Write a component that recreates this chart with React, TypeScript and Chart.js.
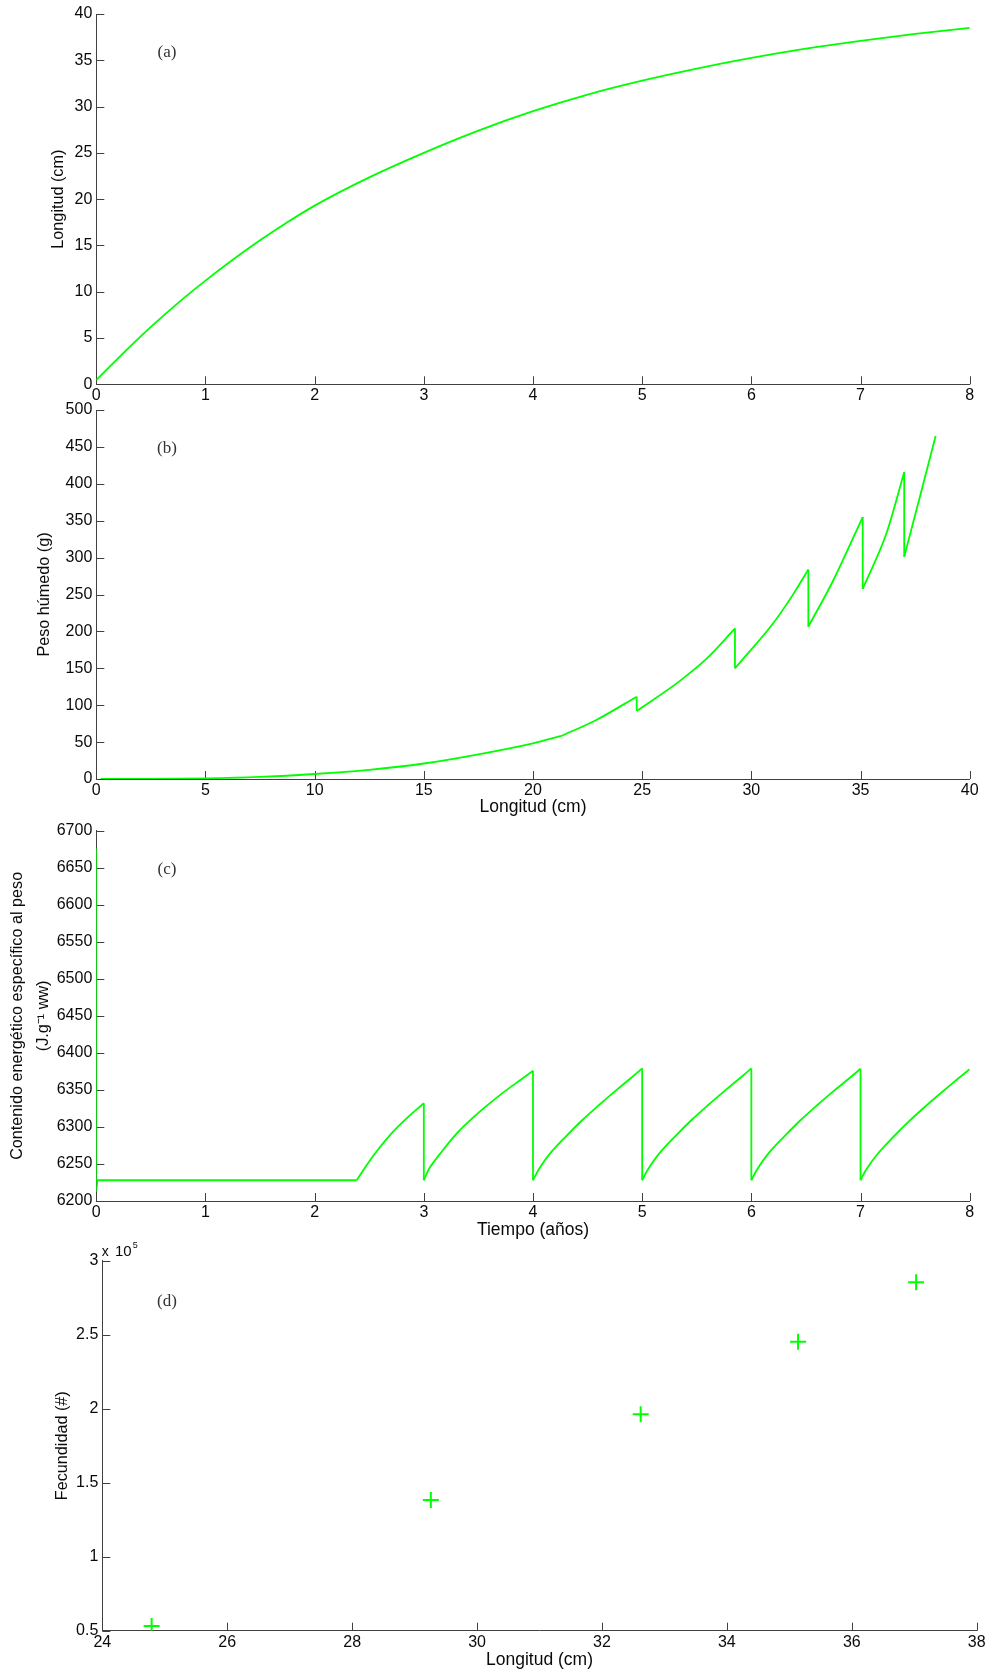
import React, { useEffect, useRef } from "react";
import { Chart, registerables } from "chart.js";

Chart.register(...registerables);

const PAGE_W = 989;
const PAGE_H = 1673;
const X_BAND = 40;
const GREEN = "#00ff00";
const AXIS = "#404040";
const TEXT = "#0a0a0a";
const SANS = "'Liberation Sans', Arial, sans-serif";
const SERIF = "'Liberation Serif', 'Times New Roman', serif";
const TICK_SIZE = 16;

type Pt = [number, number];

// ---------- (a) Longitud vs tiempo ----------
const tiempoA = [0, 0.25, 0.5, 0.75, 1, 1.25, 1.5, 1.75, 2, 2.5, 3, 3.5, 4, 4.5, 5, 5.5, 6, 6.5, 7, 7.5, 8];
const longitudA = [0.46, 3.4, 6.2, 8.8, 11.2, 13.45, 15.55, 17.5, 19.3, 22.35, 25.0, 27.4, 29.5, 31.3, 32.8, 34.1, 35.25, 36.25, 37.1, 37.85, 38.5];

// ---------- (b) Peso húmedo vs longitud ----------
const pesoTramo1: Pt[] = [[0.2, 0], [2.5, 0.1], [5, 0.9], [7.5, 2.9], [10, 6.8], [12.5, 12.4], [15, 21], [17.5, 33.5], [20, 48.4], [21.3, 58.3]];
const pesoTramo2: Pt[] = [[21.3, 58.3], [22.9, 80], [24.75, 111.5]];
const pesoTramo3: Pt[] = [[24.75, 92], [26.73, 133], [27.95, 163], [29.25, 204]];
const pesoTramo4: Pt[] = [[29.25, 150], [31.0, 211], [31.92, 250.5], [32.61, 284]];
const pesoTramo5: Pt[] = [[32.61, 206.4], [33.75, 269], [35.1, 355]];
const pesoTramo6: Pt[] = [[35.1, 257.5], [36.2, 334], [37.0, 415.6]];
const pesoTramo7: Pt[] = [[37.0, 301], [37.72, 382.5], [38.44, 464.8]];
const pesoTramos = [pesoTramo1, pesoTramo2, pesoTramo3, pesoTramo4, pesoTramo5, pesoTramo6, pesoTramo7];

// ---------- (c) Contenido energético vs tiempo ----------
const energiaInicio: Pt[] = [[0, 6676], [0, 6213], [0.01, 6228], [2.385, 6228]];
const energiaCiclo1: Pt[] = [[2.385, 6228], [2.537, 6261], [2.69, 6289], [2.842, 6311.5], [3, 6332]];
const energiaCiclo2: Pt[] = [[3, 6228], [3.05, 6244], [3.15, 6264], [3.3, 6291], [3.45, 6312.5], [3.6, 6331.5], [3.75, 6349], [3.9, 6365], [4, 6376]];
const energiaCiclo3: Pt[] = [[4, 6228], [4.05, 6242], [4.15, 6263], [4.3, 6287], [4.45, 6309], [4.6, 6329], [4.75, 6348], [4.9, 6366.5], [5, 6379]];
const energiaCiclo4: Pt[] = [[5, 6228], [5.05, 6242], [5.15, 6263], [5.3, 6287], [5.45, 6309], [5.6, 6329], [5.75, 6348], [5.9, 6366.5], [6, 6379]];
const energiaCiclo5: Pt[] = [[6, 6228], [6.05, 6242], [6.15, 6263], [6.3, 6287], [6.45, 6309], [6.6, 6329], [6.75, 6348], [6.9, 6366], [7, 6378.5]];
const energiaCiclo6: Pt[] = [[7, 6228], [7.05, 6242], [7.15, 6262.5], [7.3, 6286.5], [7.45, 6308.5], [7.6, 6328.5], [7.75, 6347.5], [7.9, 6366], [8, 6378]];
const energiaCiclos = [energiaCiclo1, energiaCiclo2, energiaCiclo3, energiaCiclo4, energiaCiclo5, energiaCiclo6];

// ---------- (d) Fecundidad vs longitud ----------
const longitudD = [24.79, 29.26, 32.62, 35.14, 37.03];
const fecundidadD = [53200, 138300, 196200, 245300, 285400];

const toXY = (pts: Pt[]) => pts.map(([x, y]) => ({ x, y }));

function lineDs(pts: Pt[], mode: "monotone" | "spline" | "straight") {
  return {
    data: toXY(pts),
    borderColor: GREEN,
    backgroundColor: GREEN,
    borderWidth: 1.8,
    pointRadius: 0,
    fill: false,
    tension: mode === "straight" ? 0 : 0.35,
    cubicInterpolationMode: mode === "monotone" ? "monotone" : "default",
  };
}

// vertical drops joining consecutive smooth pieces
function dropSets(pieces: Pt[][]) {
  const out: any[] = [];
  for (let i = 0; i < pieces.length - 1; i++) {
    const a = pieces[i][pieces[i].length - 1];
    const b = pieces[i + 1][0];
    out.push(lineDs([a, b], "straight"));
  }
  return out;
}

const innerTicks = {
  id: "innerTicks",
  beforeDatasetsDraw(chart: any) {
    const { ctx, chartArea, scales } = chart;
    const xs = scales.x;
    const ys = scales.y;
    ctx.save();
    ctx.strokeStyle = AXIS;
    ctx.lineWidth = 1;
    xs.ticks.forEach((t: any) => {
      const px = Math.round(xs.getPixelForValue(t.value)) + 0.5;
      ctx.beginPath();
      ctx.moveTo(px, chartArea.bottom);
      ctx.lineTo(px, chartArea.bottom - 8);
      ctx.stroke();
    });
    ys.ticks.forEach((t: any) => {
      const py = Math.round(ys.getPixelForValue(t.value)) + 0.5;
      ctx.beginPath();
      ctx.moveTo(chartArea.left, py);
      ctx.lineTo(chartArea.left + 8, py);
      ctx.stroke();
    });
    ctx.restore();
  },
};

type Txt = { text: string; x: number; y: number; font: string; align: CanvasTextAlign; baseline: CanvasTextBaseline; color: string };

function annotations(texts: Txt[]) {
  return {
    id: "annotations",
    afterDraw(chart: any) {
      const ctx = chart.ctx;
      texts.forEach((t) => {
        ctx.save();
        ctx.font = t.font;
        ctx.fillStyle = t.color;
        ctx.textAlign = t.align;
        ctx.textBaseline = t.baseline;
        ctx.fillText(t.text, t.x, t.y);
        ctx.restore();
      });
    },
  };
}

type Area = { left: number; right: number; top: number; bottom: number };

function panelConfig(spec: {
  type: string;
  area: Area;
  datasets: any[];
  x: { min: number; max: number; step: number; title?: string; titleCenter?: number };
  y: { min: number; max: number; step: number; title: string | string[]; titleX: number; lineHeight: number; fmt?: (v: number) => string };
  texts: Txt[];
}) {
  const { area, x, y } = spec;
  const yTitleSize = 16.2;
  const xTitleSize = 17.5;
  const yLH = yTitleSize * y.lineHeight;
  const xLH = xTitleSize * 1.2;
  const xPadBottom = x.titleCenter !== undefined ? area.bottom + X_BAND - xLH / 2 - x.titleCenter : 0;
  return {
    type: spec.type,
    data: { datasets: spec.datasets },
    options: {
      responsive: false,
      maintainAspectRatio: false,
      animation: false,
      devicePixelRatio: 1,
      events: [],
      layout: {
        padding: {
          left: 0,
          top: area.top,
          right: PAGE_W - area.right,
          bottom: PAGE_H - area.bottom - X_BAND,
        },
      },
      plugins: { legend: { display: false }, tooltip: { enabled: false }, title: { display: false } },
      scales: {
        x: {
          type: "linear",
          min: x.min,
          max: x.max,
          grid: { display: false, drawTicks: false },
          border: { display: true, color: AXIS, width: 1 },
          ticks: {
            stepSize: x.step,
            autoSkip: false,
            maxRotation: 0,
            padding: 2,
            color: TEXT,
            font: { family: SANS, size: TICK_SIZE },
            callback: (v: any) => String(v),
          },
          title: x.title
            ? {
                display: true,
                text: x.title,
                color: TEXT,
                font: { family: SANS, size: xTitleSize, lineHeight: 1.2 },
                padding: { top: 0, bottom: xPadBottom },
              }
            : { display: false },
          afterFit: (s: any) => {
            s.height = X_BAND;
          },
        },
        y: {
          type: "linear",
          min: y.min,
          max: y.max,
          grid: { display: false, drawTicks: false },
          border: { display: true, color: AXIS, width: 1 },
          ticks: {
            stepSize: y.step,
            autoSkip: false,
            padding: 4,
            color: TEXT,
            font: { family: SANS, size: TICK_SIZE },
            callback: (v: any) => (y.fmt ? y.fmt(Number(v)) : String(v)),
          },
          title: {
            display: true,
            text: y.title,
            color: TEXT,
            font: { family: SANS, size: yTitleSize, lineHeight: y.lineHeight },
            padding: { top: y.titleX - yLH / 2, bottom: 0 },
          },
          afterFit: (s: any) => {
            s.width = area.left;
          },
        },
      },
    },
    plugins: [innerTicks, annotations(spec.texts)],
  };
}

const panelLabel = (text: string, y: number): Txt => ({
  text,
  x: 167,
  y,
  font: `17px ${SERIF}`,
  align: "center",
  baseline: "middle",
  color: "#333",
});

function configs() {
  const a = panelConfig({
    type: "line",
    area: { left: 96.3, right: 969.7, top: 14, bottom: 384.3 },
    datasets: [lineDs(tiempoA.map((t, i) => [t, longitudA[i]] as Pt), "monotone")],
    x: { min: 0, max: 8, step: 1 },
    y: { min: 0, max: 40, step: 5, title: "Longitud (cm)", titleX: 58.3, lineHeight: 1.2 },
    texts: [panelLabel("(a)", 53)],
  });

  const b = panelConfig({
    type: "line",
    area: { left: 96.3, right: 969.7, top: 410, bottom: 779 },
    datasets: [...pesoTramos.map((p) => lineDs(p, "monotone")), ...dropSets(pesoTramos)],
    x: { min: 0, max: 40, step: 5, title: "Longitud (cm)", titleCenter: 806.7 },
    y: { min: 0, max: 500, step: 50, title: "Peso húmedo (g)", titleX: 44.5, lineHeight: 1.2 },
    texts: [panelLabel("(b)", 448.8)],
  });

  const c = panelConfig({
    type: "line",
    area: { left: 96.3, right: 969.7, top: 830.7, bottom: 1201 },
    datasets: [
      lineDs(energiaInicio, "straight"),
      ...energiaCiclos.map((p) => lineDs(p, "spline")),
      ...dropSets(energiaCiclos),
    ],
    x: { min: 0, max: 8, step: 1, title: "Tiempo (años)", titleCenter: 1229.7 },
    y: {
      min: 6200,
      max: 6700,
      step: 50,
      title: ["Contenido energético específico al peso", "(J.g⁻¹ ww)"],
      titleX: 17.8,
      lineHeight: 1.6,
    },
    texts: [panelLabel("(c)", 869.2)],
  });

  const d = panelConfig({
    type: "scatter",
    area: { left: 102.3, right: 976.7, top: 1260.7, bottom: 1630.7 },
    datasets: [
      {
        data: longitudD.map((x, i) => ({ x, y: fecundidadD[i] })),
        showLine: false,
        pointStyle: "cross",
        pointRadius: 8,
        pointBorderWidth: 2,
        borderColor: GREEN,
        backgroundColor: GREEN,
        pointBorderColor: GREEN,
      },
    ],
    x: { min: 24, max: 38, step: 2, title: "Longitud (cm)", titleCenter: 1660 },
    y: {
      min: 50000,
      max: 300000,
      step: 50000,
      title: "Fecundidad (#)",
      titleX: 62.5,
      lineHeight: 1.2,
      fmt: (v) => String(Math.round((v / 1e5) * 10) / 10),
    },
    texts: [
      panelLabel("(d)", 1301.7),
      { text: "x", x: 101.7, y: 1256, font: `14px ${SANS}`, align: "left", baseline: "alphabetic", color: TEXT },
      { text: "10", x: 115, y: 1256, font: `15px ${SANS}`, align: "left", baseline: "alphabetic", color: TEXT },
      { text: "5", x: 132.7, y: 1247.5, font: `9px ${SANS}`, align: "left", baseline: "alphabetic", color: TEXT },
    ],
  });

  return [a, b, c, d];
}

export default function App() {
  const canvasRefs = useRef<(HTMLCanvasElement | null)[]>([]);

  useEffect(() => {
    const cfgs = configs();
    const charts = cfgs.map((cfg, i) => new Chart(canvasRefs.current[i] as HTMLCanvasElement, cfg as any));
    return () => {
      charts.forEach((c) => c.destroy());
    };
  }, []);

  return (
    <div
      style={{
        position: "absolute",
        left: 0,
        top: 0,
        width: PAGE_W,
        height: PAGE_H,
        background: "#ffffff",
        overflow: "hidden",
      }}
    >
      {[0, 1, 2, 3].map((i) => (
        <canvas
          key={i}
          ref={(el) => {
            canvasRefs.current[i] = el;
          }}
          width={PAGE_W}
          height={PAGE_H}
          style={{ position: "absolute", left: 0, top: 0, width: PAGE_W, height: PAGE_H }}
        />
      ))}
    </div>
  );
}
